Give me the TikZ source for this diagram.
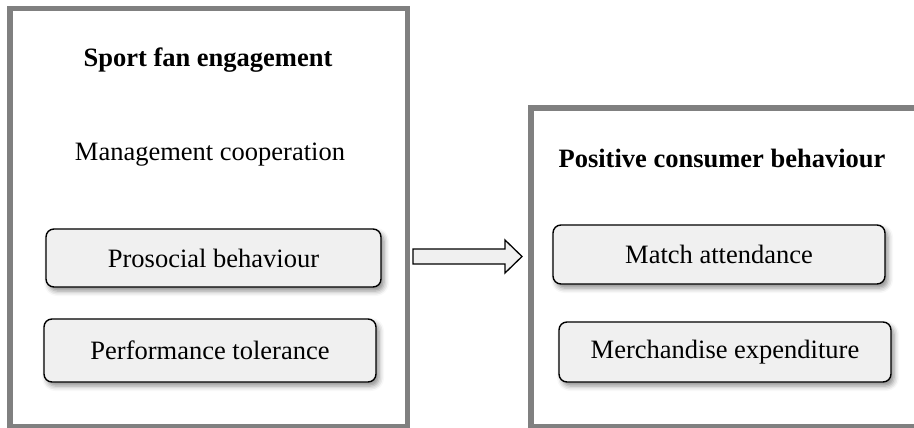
\documentclass[tikz,border=0pt]{standalone}
\usepackage{fontspec}
\setmainfont{Liberation Serif}
\usetikzlibrary{shadows.blur}
\definecolor{framegray}{HTML}{808080}
\definecolor{boxfill}{HTML}{F0F0F0}
\tikzset{
  frame/.style={draw=framegray, line width=5.5pt, inner sep=0pt},
  itembox/.style={draw=black, line width=1.4pt, fill=boxfill, rounded corners=8pt,
    inner sep=0pt, font=\fontsize{26.5}{30}\selectfont,
    blur shadow={shadow xshift=3pt, shadow yshift=-4pt, shadow blur radius=5pt, shadow opacity=45}},
  title/.style={font=\fontsize{26.5}{30}\selectfont\bfseries, inner sep=0pt},
  plain/.style={font=\fontsize{26.5}{30}\selectfont, inner sep=0pt},
  blockarrow/.style={draw=black, line width=1.3pt, fill=boxfill, line join=miter}
}
\begin{document}
\begin{tikzpicture}[x=1pt, y=-1pt]
\useasboundingbox (0,0) rectangle (914,428);
\begin{scope}
\clip (0,0) rectangle (914,428);
\node[frame, minimum width=397.5pt, minimum height=418.5pt] (left) at (208.75,217.75) {};
\node[frame, minimum width=386pt, minimum height=319pt] (right) at (724,267.5) {};
\end{scope}
\node[title] (t1) at (208,60) {Sport fan engagement};
\node[plain] (mc) at (210,155) {Management cooperation};
\node[itembox, minimum width=335pt, minimum height=58pt] (pro) at (213.5,258) {Prosocial behaviour};
\node[itembox, minimum width=332pt, minimum height=63pt] (perf) at (210,350.5) {Performance tolerance};
\node[title] (t2) at (722,158) {Positive consumer behaviour};
\node[itembox, minimum width=332pt, minimum height=59pt] (match) at (719,254.5) {Match attendance};
\node[itembox, minimum width=332pt, minimum height=60pt] (merch) at (725,352) {Merchandise expenditure};
\coordinate (as) at (413,256.5);
\coordinate (at) at (522,256.5);
\draw[blockarrow] (as) ++(0,-7.5) -- ++(92,0) -- ++(0,-9) -- (at) -- ++(-17,16.5) -- ++(0,-9) -- ++(-92,0) -- cycle;
\end{tikzpicture}
\end{document}
